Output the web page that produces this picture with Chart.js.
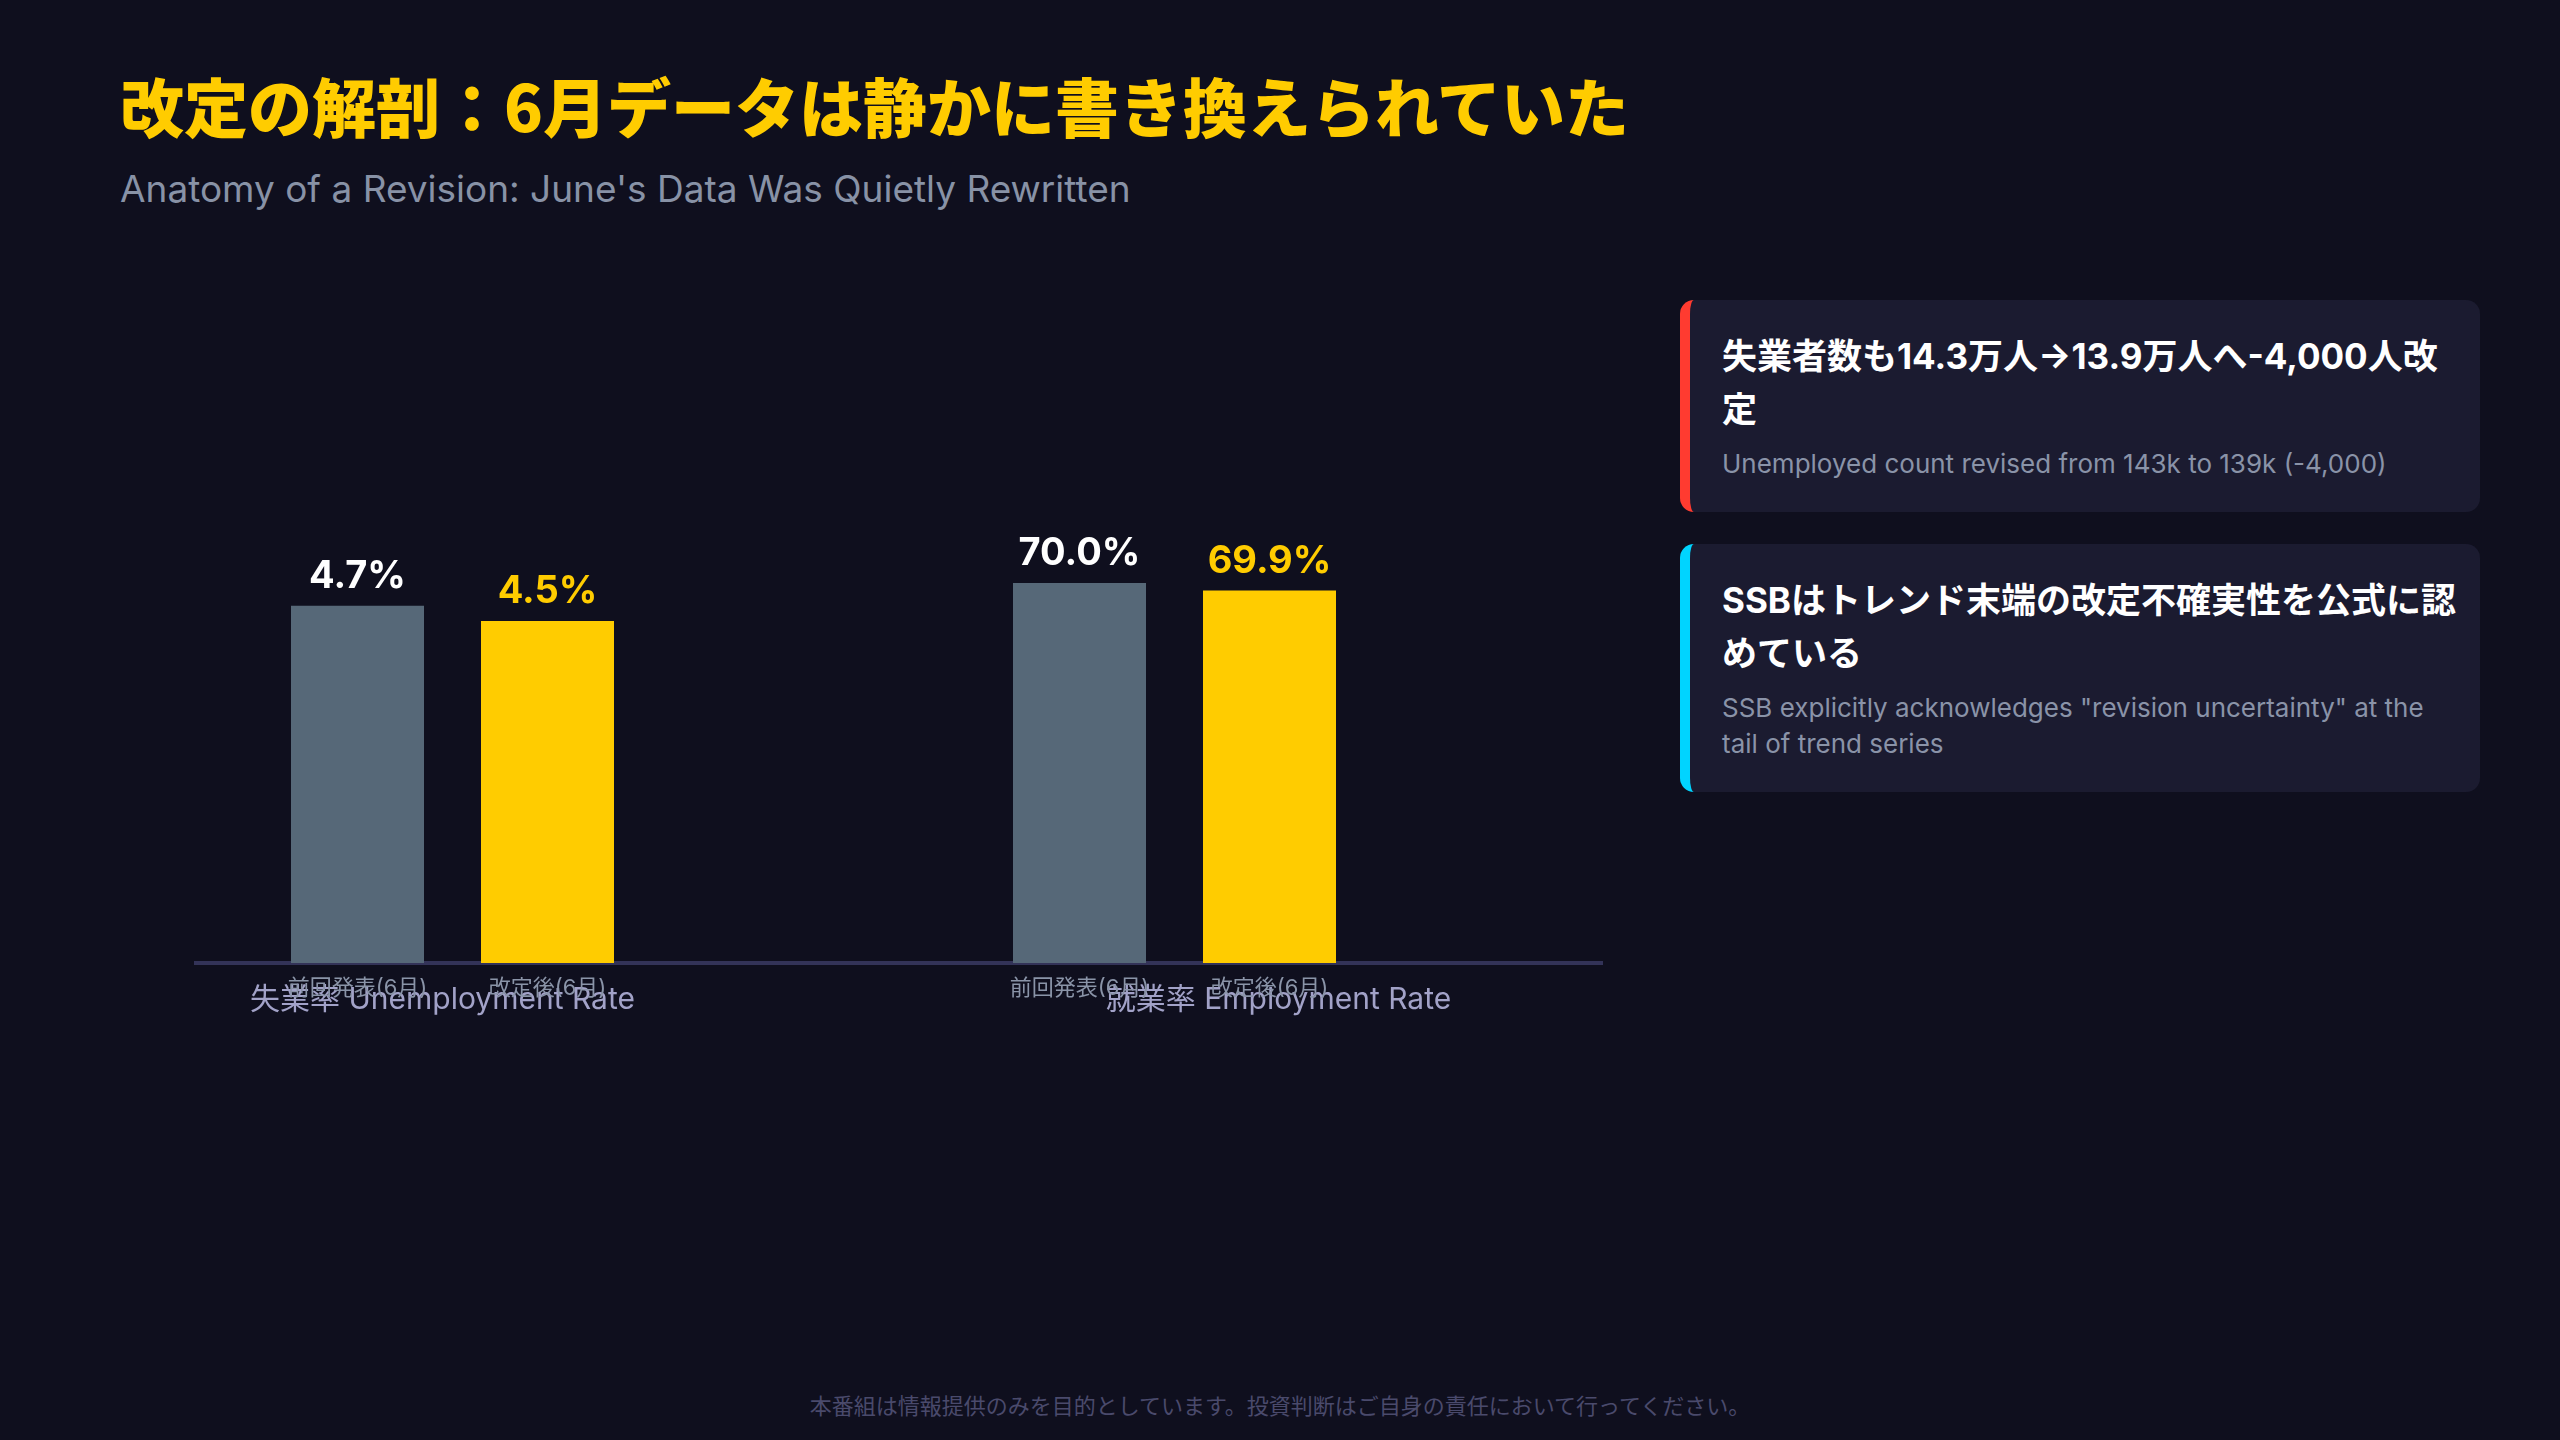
<!DOCTYPE html>
<html>
<head>
<meta charset="utf-8">
<script src="https://cdn.jsdelivr.net/npm/chart.js@4.4.1/dist/chart.umd.min.js"></script>
<style>
  html, body { margin: 0; padding: 0; width: 2560px; height: 1440px; overflow: hidden; background: #0f0f1e; }
  body { position: relative; font-family: 'Inter', 'Noto Sans CJK JP', sans-serif; }
  #title { position: absolute; left: 120px; top: 72px; font-family: 'Noto Sans CJK JP', sans-serif; font-weight: 900; font-size: 64px; line-height: 64px; color: #ffcc00; white-space: nowrap; }
  #subtitle { position: absolute; left: 120px; top: 169px; font-size: 37px; line-height: 40px; color: #8892a6; white-space: nowrap; }
  #chartBox { position: absolute; left: 120px; top: 440px; width: 1580px; height: 640px; }
  .card { position: absolute; left: 1680px; width: 800px; box-sizing: border-box; padding: 30px 32px 30px 32px; background: #1b1b30; border-radius: 14px; border-left: 10px solid #ff3b30; }
  .card.c1 { top: 300px; border-left-color: #ff3b30; }
  .card.c2 { top: 544px; border-left-color: #00d4ff; }
  .card .h { font-weight: 700; font-size: 35px; line-height: 52.5px; color: #ffffff; white-space: nowrap; }
  .card .s { margin-top: 11px; font-size: 26px; line-height: 36px; color: #8a93a8; white-space: nowrap; }
  #footer { position: absolute; left: 0; width: 2560px; top: 1393px; text-align: center; font-family: 'Noto Sans CJK JP', sans-serif; font-size: 22px; line-height: 22px; color: #4a4a6c; }
</style>
</head>
<body>
<div id="title">改定の解剖：6月データは静かに書き換えられていた</div>
<div id="subtitle">Anatomy of a Revision: June's Data Was Quietly Rewritten</div>
<div id="chartBox"><canvas id="chart"></canvas></div>
<div class="card c1"><div class="h">失業者数も14.3万人→13.9万人へ-4,000人改<br>定</div><div class="s">Unemployed count revised from 143k to 139k (-4,000)</div></div>
<div class="card c2"><div class="h">SSBはトレンド末端の改定不確実性を公式に認<br>めている</div><div class="s">SSB explicitly acknowledges "revision uncertainty" at the<br>tail of trend series</div></div>
<div id="footer">本番組は情報提供のみを目的としています。投資判断はご自身の責任において行ってください。</div>
<script>
// ---- data ----
const barLabels = ['前回発表(6月)', '改定後(6月)'];
const groupTitles = ['失業率 Unemployment Rate', '就業率 Employment Rate'];
const unemploymentValues = [4.7, 4.5];
const employmentValues = [70.0, 69.9];
const unemploymentAxisRange = [0, 6];
const employmentAxisRange = [65, 71];

// ---- styles ----
const FONT = "'Inter', 'Noto Sans CJK JP', sans-serif";
const barColors = ['#566878', '#ffcc00'];
const valueLabelColors = ['#ffffff', '#ffcc00'];
const axisLine = { display: true, color: '#333358', width: 4 };

const valueLabelPlugin = {
  id: 'valueLabels',
  afterDatasetsDraw(chart) {
    const ctx = chart.ctx;
    chart.data.datasets.forEach((ds, di) => {
      const meta = chart.getDatasetMeta(di);
      meta.data.forEach((bar, i) => {
        ctx.save();
        ctx.font = "700 38px " + FONT;
        ctx.fillStyle = valueLabelColors[i];
        ctx.textAlign = 'center';
        ctx.textBaseline = 'alphabetic';
        ctx.fillText(ds.data[i].toFixed(1) + '%', bar.x, bar.y - 18);
        ctx.restore();
      });
    });
  }
};

function tickRowAxis(labels, share) {
  return {
    type: 'category', labels: labels, position: 'bottom',
    stack: 'tickRow', stackWeight: share, weight: 0, offset: true,
    grid: { display: false, drawTicks: false },
    border: axisLine,
    ticks: { color: '#8a94a8', font: { family: FONT, size: 22 }, padding: 12, maxRotation: 0, autoSkip: false }
  };
}
function titleRowAxis(text, share) {
  return {
    type: 'category', labels: [''], position: 'bottom',
    stack: 'titleRow', stackWeight: share, weight: 1,
    grid: { display: false, drawTicks: false },
    border: { display: false },
    ticks: { display: false },
    title: { display: true, text: text, color: '#a2a2c8', font: { family: FONT, size: 30 }, padding: { top: -31.9, bottom: 0 } }
  };
}

new Chart(document.getElementById('chart'), {
  type: 'bar',
  data: {
    datasets: [
      { label: groupTitles[0], data: unemploymentValues, backgroundColor: barColors,
        xAxisID: 'xU', yAxisID: 'yU', grouped: false, categoryPercentage: 1, barPercentage: 0.7 },
      { label: groupTitles[1], data: employmentValues, backgroundColor: barColors,
        xAxisID: 'xE', yAxisID: 'yE', grouped: false, categoryPercentage: 1, barPercentage: 0.7 }
    ]
  },
  options: {
    responsive: true, maintainAspectRatio: false, animation: false,
    devicePixelRatio: 1,
    layout: { padding: { left: 76, right: 98, top: 67, bottom: 62.5 } },
    plugins: { legend: { display: false }, tooltip: { enabled: false } },
    scales: {
      xGap1: tickRowAxis([''], 66.5),
      xU: tickRowAxis(barLabels, 380),
      xGap2: tickRowAxis([''], 342),
      xE: tickRowAxis(barLabels, 380),
      xGap3: tickRowAxis([''], 237.5),
      xT1: titleRowAxis(groupTitles[0], 493),
      xT2: titleRowAxis('', 266),
      xT3: titleRowAxis(groupTitles[1], 647),
      yU: { type: 'linear', display: false, min: unemploymentAxisRange[0], max: unemploymentAxisRange[1] },
      yE: { type: 'linear', display: false, min: employmentAxisRange[0], max: employmentAxisRange[1] }
    }
  },
  plugins: [valueLabelPlugin]
});
</script>
</body>
</html>
